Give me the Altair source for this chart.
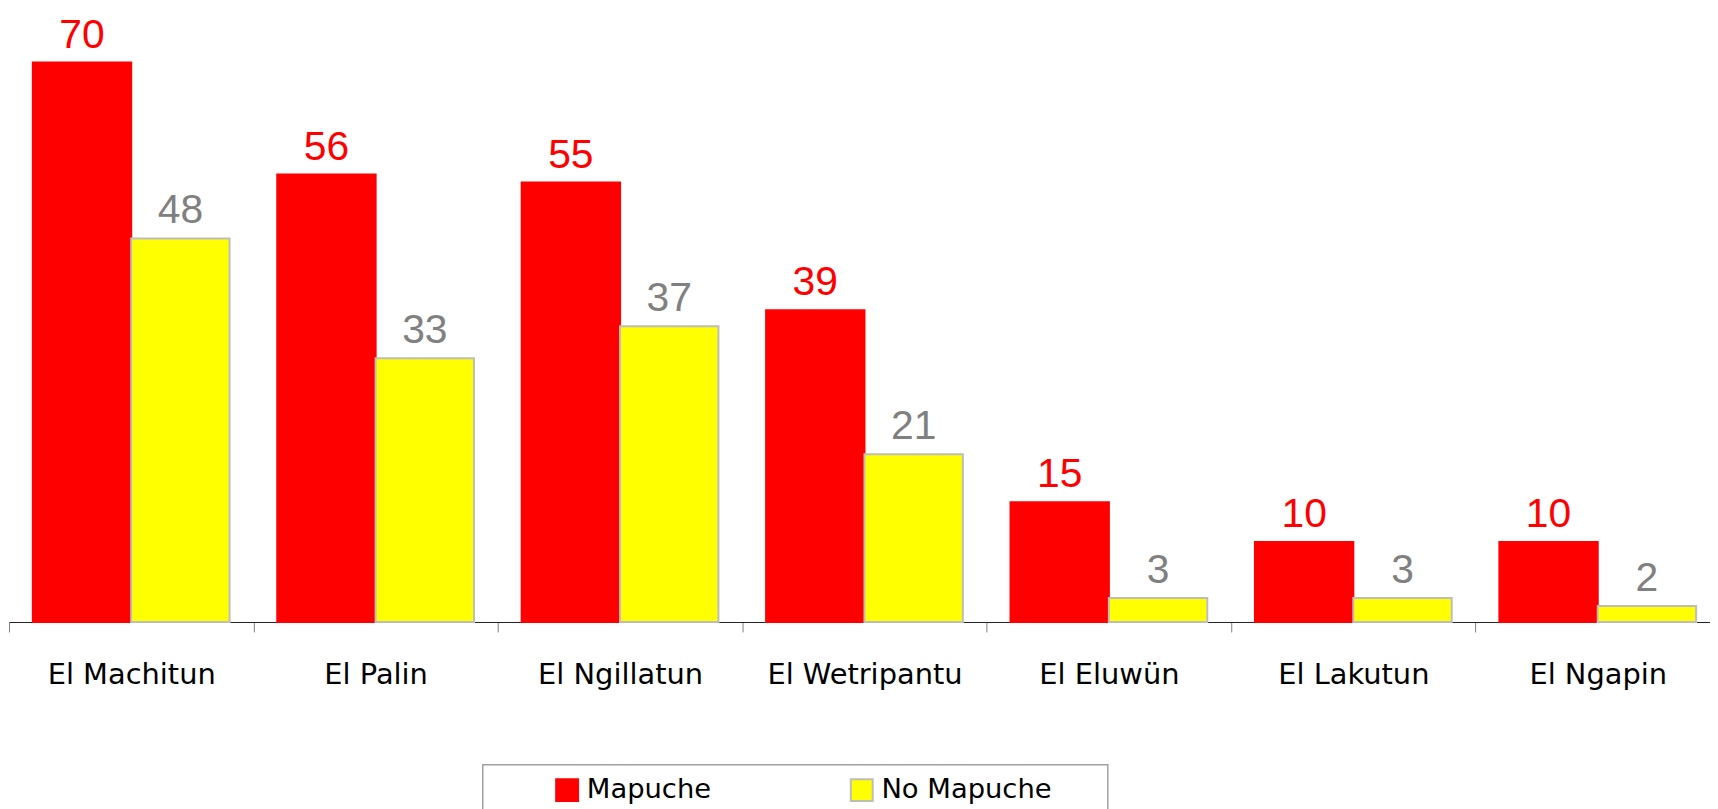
import altair as alt
import pandas as pd

categories = ["El Machitun", "El Palin", "El Ngillatun", "El Wetripantu",
              "El Eluwün", "El Lakutun", "El Ngapin"]
series_names = ["Mapuche", "No Mapuche"]
mapuche = [70, 56, 55, 39, 15, 10, 10]
no_mapuche = [48, 33, 37, 21, 3, 3, 2]

rows = []
for c, a, b in zip(categories, mapuche, no_mapuche):
    rows.append({"cat": c, "serie": series_names[0], "valor": a})
    rows.append({"cat": c, "serie": series_names[1], "valor": b})
df = pd.DataFrame(rows)

W, H = 1709, 615

x = alt.X("cat:N", sort=categories, title=None,
          scale=alt.Scale(rangeMax=1719, paddingInner=0, paddingOuter=0),
          axis=alt.Axis(labelAngle=0, labelFont="DejaVu Sans", labelFontSize=29,
                        labelColor="#000000", labelBaseline="alphabetic",
                        labelPadding=52, tickBand="extent", tickSize=10,
                        tickColor="#808080", tickWidth=1, domainColor="#222222",
                        domainWidth=1, labelLimit=400))
xo = alt.XOffset("serie:N", sort=series_names,
                 scale=alt.Scale(paddingInner=0, paddingOuter=0.2423))
y = alt.Y("valor:Q", axis=None, scale=alt.Scale(domain=[0, 76.6], nice=False, zero=True))

base = alt.Chart(df)

bars = base.mark_bar(strokeWidth=2).encode(
    x=x, xOffset=xo, y=y,
    color=alt.Color("serie:N", sort=series_names,
                    scale=alt.Scale(domain=series_names, range=["#FF0000", "#FFFF00"]),
                    legend=alt.Legend(title=None, orient="none", direction="horizontal",
                                      columns=2, columnPadding=135,
                                      legendX=547, legendY=770,
                                      symbolType="square", symbolSize=484,
                                      symbolStrokeWidth=2, labelOffset=6,
                                      labelFont="DejaVu Sans", labelFontSize=27.5,
                                      labelColor="#000000", labelLimit=400,
                                      padding=0)),
    stroke=alt.Stroke("serie:N", sort=series_names,
                      scale=alt.Scale(domain=series_names, range=["#FF0000", "#BDBDBD"]),
                      legend=None),
)

labels = base.mark_text(baseline="alphabetic", dy=-15, font="Liberation Sans",
                        fontSize=41).encode(
    x=x, xOffset=xo, y=y,
    text=alt.Text("valor:Q"),
    color=alt.condition(alt.datum.serie == "Mapuche", alt.value("#FF0000"),
                        alt.value("#808080")),
)

frame = alt.Chart(pd.DataFrame({"k": [0]})).mark_rect(
    filled=False, stroke="#A0A0A0", strokeWidth=1.5
).encode(x=alt.value(476), x2=alt.value(1104), y=alt.value(758.5), y2=alt.value(840))

chart = alt.layer(bars, labels, frame).properties(
    width=W, height=H,
    autosize=alt.AutoSizeParams(type="none"),
    padding={"left": 1, "top": 0, "right": 0, "bottom": 186},
).configure(background="white").configure_view(stroke=None)

chart.save("out.html", embed_options={"renderer": "svg", "actions": False})
